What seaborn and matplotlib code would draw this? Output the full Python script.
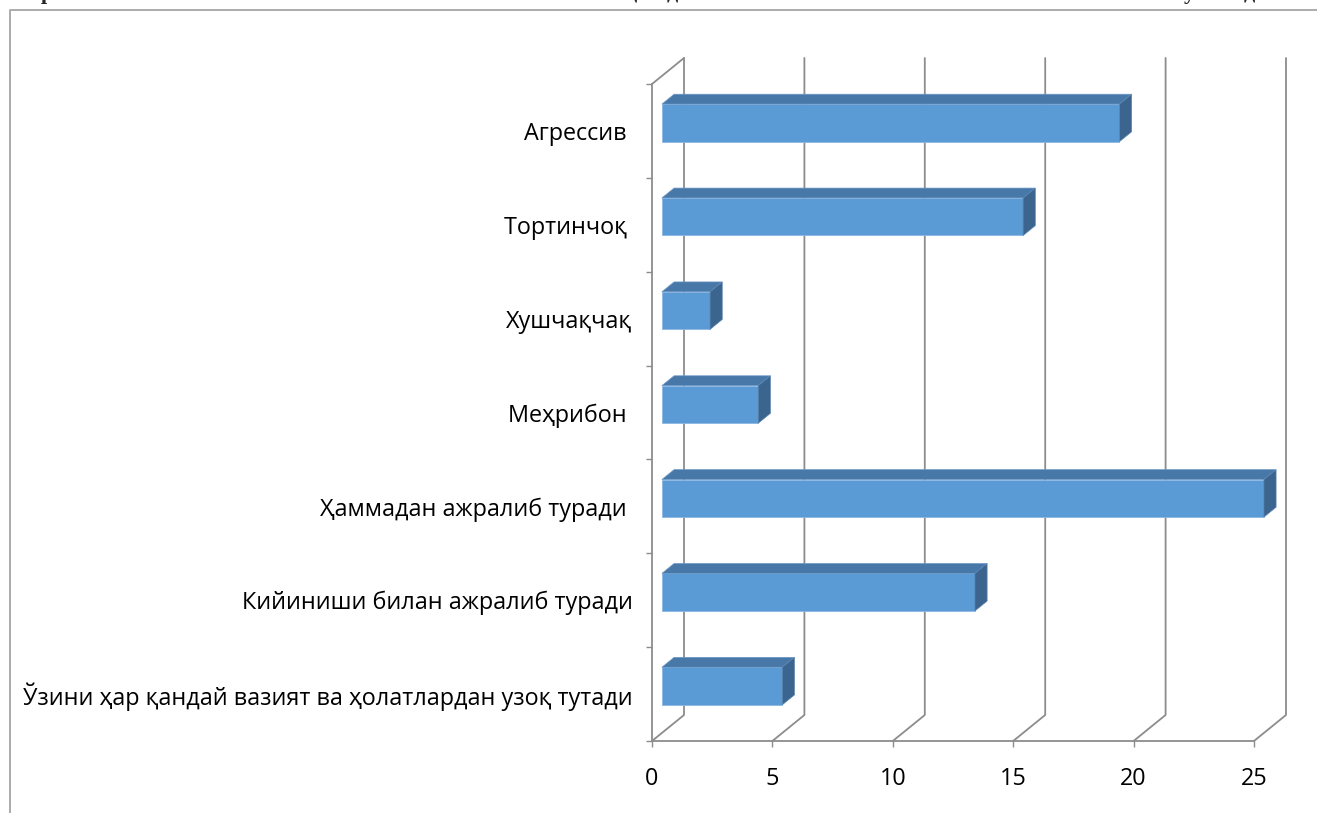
import numpy as np
import pandas as pd
import matplotlib
matplotlib.use('Agg')
from matplotlib import pyplot as plt
from matplotlib.patches import Polygon
from matplotlib.lines import Line2D
import seaborn as sns

# данные
categories = ['Агрессив ', 'Тортинчоқ ', 'Хушчақчақ', 'Меҳрибон ',
              'Ҳаммадан ажралиб туради ', 'Кийиниши билан ажралиб туради',
              'Ўзини ҳар қандай вазият ва ҳолатлардан узоқ тутади']
values = [19, 15, 2, 4, 25, 13, 5]
xticks = [0, 5, 10, 15, 20, 25]

sns.set_theme(style='white')
plt.rcParams['font.family'] = ['Open Sans', 'DejaVu Sans']

W, H = 1317, 813
fig = plt.figure(figsize=(W / 100, H / 100), dpi=100)
ax = fig.add_axes([652 / W, 1 - 741 / H, 602 / W, 657 / H])

front = '#5B9BD5'
top_c = '#4878A8'
side_c = '#3B658E'
grid_c = '#8C8C8C'
fs = 16.8

df = pd.DataFrame({'cat': categories, 'val': values})
sns.barplot(data=df, x='val', y='cat', orient='h', width=0.4, color=front,
            saturation=1, ax=ax, zorder=3, edgecolor='#8DB6E2', linewidth=0.6)
ax.set_xlim(0, 25)
ax.set_ylim(6.5, -0.5)

# пиксели -> единицы данных
ux = 25 / 602
uy = 7 / 657

def depth(f):
    return f * 32 * ux, -f * 26 * uy

f1x, f1y = depth(0.31)
f2x, f2y = depth(0.69)
Dx, Dy = depth(1.0)

for p in list(ax.patches):
    x0, y0, w, h = p.get_x(), p.get_y(), p.get_width(), p.get_height()
    p.set_x(x0 + f1x)
    p.set_y(y0 + f1y)
    topface = Polygon([(x0 + f1x, y0 + f1y), (x0 + w + f1x, y0 + f1y),
                       (x0 + w + f2x, y0 + f2y), (x0 + f2x, y0 + f2y)],
                      closed=True, facecolor=top_c, edgecolor='#6A98C8',
                      linewidth=0.5, zorder=3, clip_on=False)
    sideface = Polygon([(x0 + w + f1x, y0 + f1y), (x0 + w + f2x, y0 + f2y),
                        (x0 + w + f2x, y0 + h + f2y), (x0 + w + f1x, y0 + h + f1y)],
                       closed=True, facecolor=side_c, edgecolor='#5A84B0',
                       linewidth=0.5, zorder=3, clip_on=False)
    ax.add_patch(topface)
    ax.add_patch(sideface)
    p.set_clip_on(False)

# сетка (задняя стенка и пол)
for k in xticks:
    ax.plot([k, k + Dx, k + Dx], [6.5, 6.5 + Dy, -0.5 + Dy], color=grid_c,
            lw=1.3, zorder=1, clip_on=False)
ax.plot([0, 0], [6.5, -0.5], color=grid_c, lw=1.3, zorder=1, clip_on=False)
ax.plot([0, Dx], [-0.5, -0.5 + Dy], color=grid_c, lw=1.3, zorder=1, clip_on=False)
ax.plot([0, 25], [6.5, 6.5], color=grid_c, lw=1.3, zorder=1, clip_on=False)

for s in ax.spines.values():
    s.set_visible(False)

ax.set_xlabel('')
ax.set_ylabel('')
ax.set_xticks(xticks)
ax.set_xticklabels([str(t) for t in xticks])
ax.set_yticks(np.arange(-0.5, 7, 1), minor=True)
ax.tick_params(axis='x', which='major', length=4, width=1, color=grid_c,
               direction='out', bottom=True, pad=15, labelsize=fs, labelcolor='black')
ax.tick_params(axis='y', which='major', length=0, pad=14, labelsize=fs, labelcolor='black')
ax.tick_params(axis='y', which='minor', length=4, width=1, color=grid_c,
               direction='out', left=True)

# рамка диаграммы
fig.add_artist(Line2D([9.5 / W, 9.5 / W, 1], [0, 1 - 10 / H, 1 - 10 / H],
                      transform=fig.transFigure, color='#A5A5A5', lw=1.3))

# обрезанный текст документа сверху
for ch, px in [('р', 47), ('ҳ', 632), ('д', 672), ('у', 1189), ('д', 1249)]:
    fig.text(px / W, 1 + 1 / H, ch, ha='center', va='baseline', fontsize=16,
             fontweight='bold', family=['Liberation Serif', 'DejaVu Serif'])

fig.savefig('out.png', dpi=100)
